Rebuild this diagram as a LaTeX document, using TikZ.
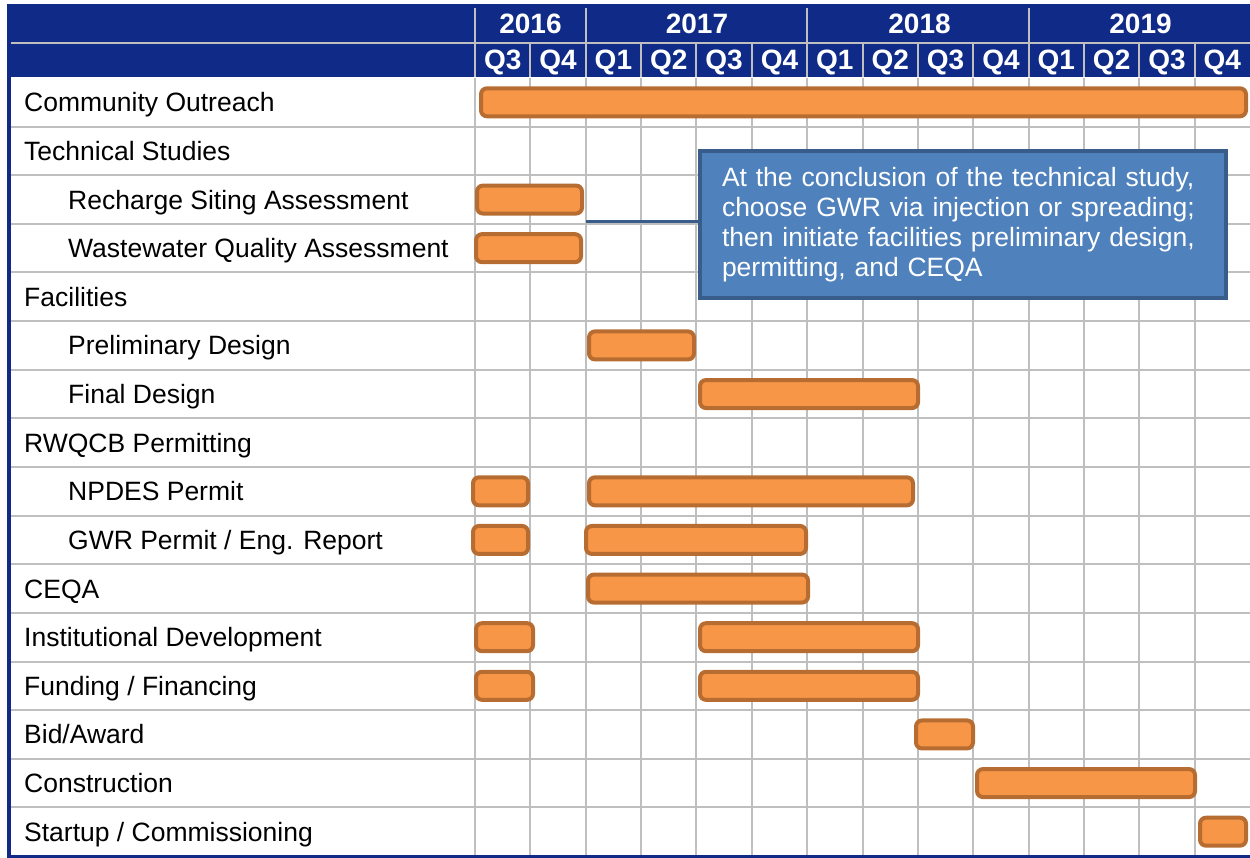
\documentclass[tikz,border=0pt]{standalone}
\usepackage{fontspec}
\setmainfont{Liberation Sans}

\definecolor{hdrblue}{RGB}{16,43,135}
\definecolor{gridgray}{RGB}{191,191,191}
\definecolor{barfill}{RGB}{247,150,70}
\definecolor{barline}{RGB}{183,109,49}
\definecolor{notefill}{RGB}{79,129,189}
\definecolor{noteline}{RGB}{56,93,138}

\tikzset{
  gridline/.style={gridgray, line width=2pt},
  hdrtext/.style={anchor=base, text=white, font=\bfseries\fontsize{28}{30}\selectfont},
  task/.style={anchor=base west, inner sep=0pt, font=\fontsize{26.5}{30}\selectfont},
  bar/.style={draw=barline, fill=barfill, line width=4pt, rounded corners=6pt},
  note/.style={draw=noteline, fill=notefill, line width=4pt, text=white, align=left,
    inner xsep=22pt, text width=482pt, minimum height=147pt,
    font=\fontsize{26.5}{30}\selectfont},
  link/.style={noteline, line width=3pt}
}

\begin{document}
\begin{tikzpicture}[x=1pt, y=-1pt]
\useasboundingbox (0,0) rectangle (1250,858);
% header band
\fill[hdrblue] (7,4) rectangle (1250,77.5);
\draw[gridline] (11,43) -- (1250,43);
\foreach \c in {0,2,6,10}
  \draw[gridline] ({475+55.36*\c},8) -- ({475+55.36*\c},77.5);
\foreach \c in {1,3,4,5,7,8,9,11,12,13}
  \draw[gridline] ({475+55.36*\c},43) -- ({475+55.36*\c},77.5);
% body grid
\foreach \r in {1,...,15}
  \draw[gridline] (11,{78+48.625*\r}) -- (1250,{78+48.625*\r});
\foreach \c in {0,...,13}
  \draw[gridline] ({475+55.36*\c},78) -- ({475+55.36*\c},855);
% frame
\draw[hdrblue, line width=4pt] (9,4) -- (9,858);
\draw[hdrblue, line width=3pt] (7,856.5) -- (1250,856.5);

% years and quarters
\node[hdrtext] (y2016) at (530.5,33.5) {2016};
\node[hdrtext] (y2017) at (697,33.5) {2017};
\node[hdrtext] (y2018) at (919.5,33.5) {2018};
\node[hdrtext] (y2019) at (1140.5,33.5) {2019};
\foreach \q [count=\i from 0] in {3,4,1,2,3,4,1,2,3,4,1,2,3,4}
  \node[hdrtext] (q\i) at ({475+55.36*(\i+0.5)},70) {Q\q};

% task labels
\node[task] (outreach) at (24,111.8) {Community Outreach};
\node[task] (techstudy) at (24,160.4) {Technical Studies};
\node[task] (recharge) at (68,209.1) {Recharge Siting Assessment};
\node[task] (wwquality) at (68,257.7) {Wastewater Quality Assessment};
\node[task] (facilities) at (24,306.3) {Facilities};
\node[task] (prelim) at (68,354.9) {Preliminary Design};
\node[task] (final) at (68,403.6) {Final Design};
\node[task] (rwqcb) at (24,452.2) {RWQCB Permitting};
\node[task] (npdes) at (68,500.8) {NPDES Permit};
\node[task] (gwr) at (68,549.4) {GWR Permit / Eng. Report};
\node[task] (ceqa) at (24,598.1) {CEQA};
\node[task] (instdev) at (24,646.7) {Institutional Development};
\node[task] (funding) at (24,695.3) {Funding / Financing};
\node[task] (bidaward) at (24,743.9) {Bid/Award};
\node[task] (construct) at (24,792.6) {Construction};
\node[task] (startup) at (24,841.2) {Startup / Commissioning};

% bars: row / start / end
\foreach \r/\a/\b in {0/481/1246, 2/477/582, 3/476/581, 5/589/694, 6/700/918,
    8/473/528, 8/589/913, 9/473/528, 9/586/806, 10/588/808,
    11/476/533, 11/700/918, 12/476/533, 12/700/918,
    13/916/973, 14/977/1195, 15/1200/1246}
  \draw[bar] (\a,{78+48.625*(\r+0.5)-14}) rectangle (\b,{78+48.625*(\r+0.5)+14});

% callout
\coordinate (tsend) at (586,222);
\node[note] (callout) at (963,225) {At the conclusion of the technical study,\\
  choose GWR via injection or spreading;\\
  then initiate facilities preliminary design,\\
  permitting, and CEQA};
\draw[link] (tsend) -- (tsend -| callout.west);
\end{tikzpicture}
\end{document}
